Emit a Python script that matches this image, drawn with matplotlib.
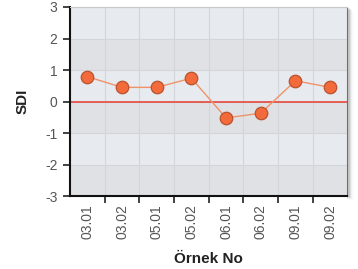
import matplotlib
matplotlib.use("Agg")
import matplotlib.pyplot as plt
from matplotlib.patches import Rectangle

plt.rcParams["font.family"] = ["Liberation Sans", "DejaVu Sans"]

# data
samples = ["03.01", "03.02", "05.01", "05.02", "06.01", "06.02", "09.01", "09.02"]
sdi = [0.79, 0.45, 0.45, 0.74, -0.52, -0.37, 0.66, 0.45]
y_ticks = [3, 2, 1, 0, -1, -2, -3]

fig = plt.figure(figsize=(3.58, 2.69), dpi=100)
ax = fig.add_axes([0.1955, 0.271, 0.775, 0.703])

# soft shadow on the right / bottom of the plot frame
for i, a in enumerate([0.10, 0.07, 0.04, 0.02]):
    fig.patches.append(Rectangle((0.1955 + 0.775, 0.271 - 0.004 * (i + 1)),
                                 0.004 * (i + 1) + 0.002, 0.703,
                                 transform=fig.transFigure, color="k",
                                 alpha=a, lw=0, zorder=0))

ax.set_facecolor("#e7eaee")
for lo in range(-3, 3):
    if lo % 2 != 0:
        ax.axhspan(lo, lo + 1, color="#dfe1e4", lw=0, zorder=0)

x = list(range(len(samples)))
ax.set_xlim(-0.5, len(samples) - 0.5)
ax.set_ylim(-3, 3)

ax.set_yticks(y_ticks)
ax.set_yticklabels([str(v) for v in y_ticks])
ax.set_xticks(x)
ax.set_xticklabels(samples, rotation=90)
ax.set_xticks([i + 0.5 for i in x[:-1]], minor=True)

ax.grid(axis="y", which="major", color="#d2d5d9", lw=0.8, zorder=1)
ax.grid(axis="x", which="minor", color="#d2d5d9", lw=0.8, zorder=1)
ax.set_axisbelow(True)

ax.axhline(0, color="#e5483c", lw=1.2, zorder=2)
ax.plot(x, sdi, color="#f0936a", lw=1.0, zorder=3)
ax.plot(x, sdi, "o", ms=9, mfc="#f36a3b", mec="#b9532f", mew=0.9, zorder=4)

ax.tick_params(axis="x", which="major", length=0, pad=6, labelsize=10, labelcolor="#555555")
ax.tick_params(axis="x", which="minor", length=5, width=1.2, color="#222222")
ax.tick_params(axis="y", length=5, width=1.2, color="#222222", labelsize=10,
               labelcolor="#555555", pad=4)

ax.spines["left"].set_color("#111111")
ax.spines["left"].set_linewidth(1.5)
ax.spines["bottom"].set_color("#111111")
ax.spines["bottom"].set_linewidth(1.5)
ax.spines["right"].set_color("#8e8e8e")
ax.spines["top"].set_color("#c8c8c8")

ax.set_ylabel("SDI", fontsize=11, fontweight="bold", color="#222222", labelpad=11)
ax.set_xlabel("Örnek No", fontsize=11, fontweight="bold", color="#222222", labelpad=9)

fig.savefig("out.png", dpi=100)
